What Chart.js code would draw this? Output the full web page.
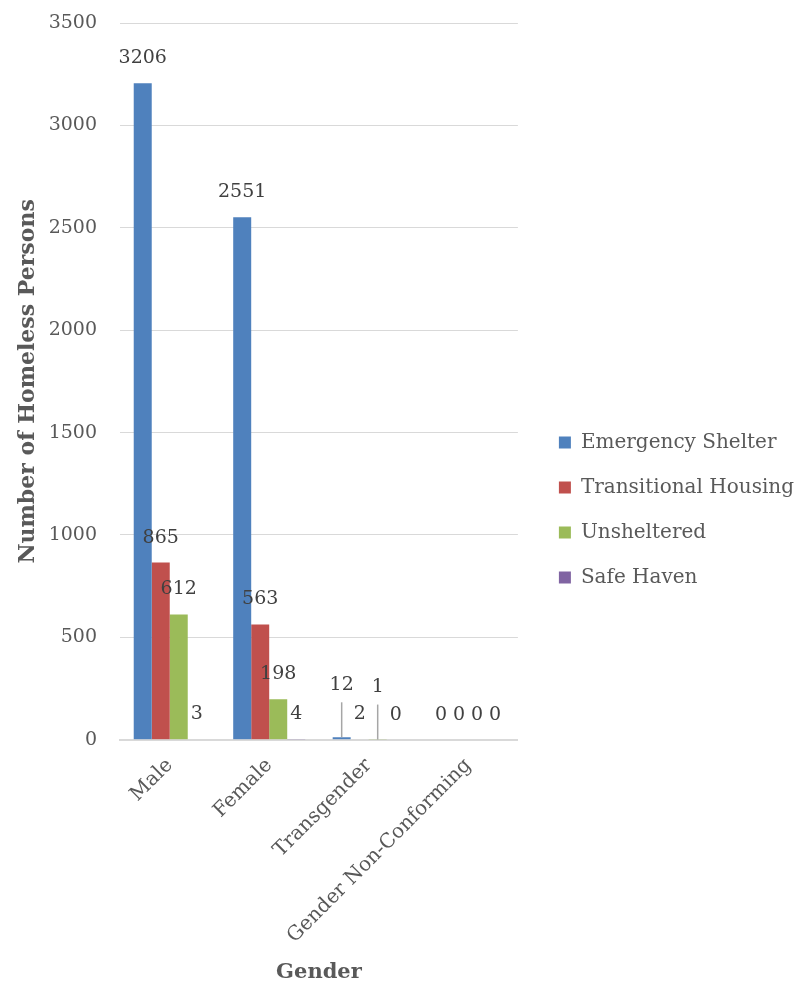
<!DOCTYPE html>
<html>
<head>
<meta charset="utf-8">
<script src="https://cdn.jsdelivr.net/npm/chart.js@4"></script>
<style>
html,body{margin:0;padding:0;background:#fff;}
#wrap{width:797px;height:987px;}
</style>
</head>
<body>
<div id="wrap"><canvas id="chart" width="797" height="987"></canvas></div>
<script>
const categories=['Male','Female','Transgender','Gender Non-Conforming'];
const emergencyShelter=[3206,2551,12,0];
const transitionalHousing=[865,563,2,0];
const unsheltered=[612,198,1,0];
const safeHaven=[3,4,0,0];
const seriesNames=['Emergency Shelter','Transitional Housing','Unsheltered','Safe Haven'];
const seriesColors=['#4F81BD','#C0504D','#9BBB59','#8064A2'];

const FONT='"DejaVu Serif", serif';

// labels above bars, some lifted with a leader line like the original
const barLabels={
id:'barLabels',
afterDatasetsDraw(chart,args,opts)
{
const ctx=chart.ctx;
ctx.save();
ctx.font='19px '+FONT;
ctx.fillStyle='#404040';
ctx.textAlign='center';
ctx.textBaseline='middle';
chart.data.datasets.forEach((ds,di)=>
{
const meta=chart.getDatasetMeta(di);
meta.data.forEach((bar,i)=>
{
const lifted=opts.callouts.some(c=>c[0]===di&&c[1]===i);
const y=lifted?bar.y-52:bar.y-25;
ctx.fillText(String(ds.data[i]),bar.x,y);
if(lifted)
{
ctx.strokeStyle='#a6a6a6';
ctx.lineWidth=1.5;
ctx.beginPath();
ctx.moveTo(bar.x,y+17);
ctx.lineTo(bar.x,bar.y);
ctx.stroke();
}
});
});
ctx.restore();
}
};

// nudge the legend, the original is not quite centred
const legendShift={
id:'legendShift',
afterLayout(chart)
{
const lg=chart.legend;
if(!lg) return;
lg.top+=7;lg.bottom+=7;
lg.left+=16;lg.right+=16;
}
};

const data=[emergencyShelter,transitionalHousing,unsheltered,safeHaven];

new Chart(document.getElementById('chart'),
{
type:'bar',
data:{
labels:categories,
datasets:seriesNames.map((name,i)=>({
label:name,
data:data[i],
backgroundColor:seriesColors[i],
borderWidth:0,
categoryPercentage:0.724,
barPercentage:1
}))
},
plugins:[barLabels,legendShift],
options:{
responsive:false,
animation:false,
layout:{padding:{left:0,top:23,right:9,bottom:4}},
plugins:{
tooltip:{enabled:false},
barLabels:{callouts:[[0,2],[2,2]]},
legend:{
position:'right',
maxWidth:279,
labels:{
boxWidth:12,
boxHeight:12,
padding:25,
color:'#595959',
font:{family:FONT,size:20}
}
}
},
scales:{
x:{
grid:{display:false,drawTicks:false},
border:{color:'#d9d9d9',width:2},
ticks:{
color:'#595959',
font:{family:FONT,size:20},
minRotation:45,
maxRotation:45,
padding:14
},
title:{
display:true,
text:'Gender',
color:'#595959',
font:{family:FONT,size:21,weight:'bold',lineHeight:1},
padding:{top:0,bottom:0}
}
},
y:{
min:0,
max:3500,
border:{display:false},
grid:{color:'#d9d9d9',drawTicks:true,tickLength:20,tickColor:'rgba(0,0,0,0)'},
afterFit:(scale)=>{scale.width=120;},
ticks:{
stepSize:500,
color:'#595959',
font:{family:FONT,size:19},
padding:3,
callback:(v)=>String(v)
},
title:{
display:true,
text:'Number of Homeless Persons',
color:'#595959',
font:{family:FONT,size:22,weight:'bold'},
padding:{top:15,bottom:0}
}
}
}
}
});
</script>
</body>
</html>
